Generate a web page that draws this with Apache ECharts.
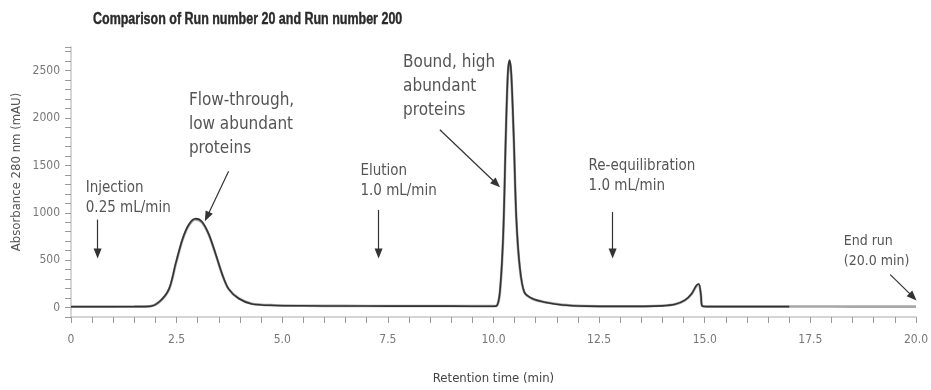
<!DOCTYPE html>
<html><head><meta charset="utf-8">
<script src="https://cdn.jsdelivr.net/npm/echarts@6/dist/echarts.min.js"></script>
<style>html,body{margin:0;padding:0;background:#fff}#c{width:931px;height:390px}</style>
</head><body><div id="c"></div>
<script>
// ---- data ----
const titleText = 'Comparison of Run number 20 and Run number 200';
const xAxisName = 'Retention time (min)';
const yAxisName = 'Absorbance 280 nm (mAU)';
const xTickLabels = [0, 2.5, 5, 7.5, 10, 12.5, 15, 17.5, 20];
const yTickLabels = [0, 500, 1000, 1500, 2000, 2500];

const run20Time = [0, 0.5, 1.0, 1.5, 1.86, 2.09, 2.32, 2.48, 2.64, 2.79, 2.95, 3.10, 3.26, 3.42, 3.58, 3.73, 3.97, 4.28, 4.83, 5.5, 6.5, 7.5, 8.5, 9.5, 10.0, 10.07, 10.15, 10.23, 10.29, 10.34, 10.38, 10.42, 10.48, 10.54, 10.62, 10.73, 10.93, 11.24, 11.63, 12.18, 13.0, 13.59, 13.98, 14.30, 14.53, 14.69, 14.80, 14.86, 14.91, 14.94, 15.07, 16.0, 17.0];
const run20Abs  = [8, 8, 8, 9, 12, 61, 197, 469, 724, 877, 938, 905, 775, 571, 350, 197, 95, 38, 22, 18, 16, 15, 15, 14, 14, 16, 163, 775, 1795, 2478, 2611, 2478, 1795, 949, 439, 163, 92, 54, 27, 15, 12, 12, 17, 34, 78, 146, 231, 248, 133, 17, 10, 10, 10];

const run200Time = [0, 0.5, 1.0, 1.5, 1.86, 2.09, 2.32, 2.48, 2.64, 2.79, 2.95, 3.10, 3.26, 3.42, 3.58, 3.73, 3.97, 4.28, 4.83, 5.5, 6.5, 7.5, 8.5, 9.5, 10.0, 10.07, 10.15, 10.23, 10.29, 10.34, 10.38, 10.42, 10.48, 10.54, 10.62, 10.73, 10.93, 11.24, 11.63, 12.18, 13.0, 13.59, 13.98, 14.30, 14.53, 14.69, 14.80, 14.86, 14.91, 14.94, 15.07, 16.0, 17.0, 17.5, 18.5, 19.5, 20.0];
const run200Abs  = [10, 10, 10, 11, 14, 58, 190, 460, 715, 868, 930, 898, 770, 566, 347, 196, 96, 40, 24, 19, 17, 16, 16, 15, 15, 17, 150, 750, 1770, 2455, 2590, 2460, 1780, 940, 430, 160, 90, 55, 28, 16, 13, 13, 18, 35, 76, 143, 226, 243, 130, 18, 11, 11, 11, 11, 10, 10, 10];

// annotation texts: [text, x (min), y (mAU) of first line centre, size class]
const noteTexts = [
  ['Injection\n0.25 mL/min', 0.35, 1265, 'small'],
  ['Flow-through,\nlow abundant\nproteins', 2.79, 2183, 'big'],
  ['Elution\n1.0 mL/min', 6.85, 1438, 'small'],
  ['Bound, high\nabundant\nproteins', 7.86, 2581, 'big'],
  ['Re-equilibration\n1.0 mL/min', 12.25, 1489, 'small'],
  ['End run\n(20.0 min)', 18.29, 694, 'tiny']
];
// arrows: [x1, y1, x2, y2] in (min, mAU)
const noteArrows = [
  [0.63, 928, 0.63, 571],
  [3.73, 1438, 3.22, 959],
  [7.28, 1030, 7.28, 571],
  [8.73, 1877, 10.07, 1306],
  [12.82, 1010, 12.82, 571],
  [19.39, 347, 19.93, 112]
];

// ---- styles ----
const FONT = '"DejaVu Sans Condensed", "DejaVu Sans", sans-serif';
const noteStyle = {
  small: {size: 15, lh: 20},
  big:   {size: 17, lh: 24},
  tiny:  {size: 14, lh: 20}
};

const pair = (t, v) => t.map((x, i) => [x, v[i]]);
const near = (arr, v) => arr.some(a => Math.abs(a - v) < 1e-6);

const chart = echarts.init(document.getElementById('c'), null, {renderer: 'canvas'});
chart.setOption({
  animation: false,
  backgroundColor: '#fff',
  grid: {left: 71, right: 8, top: 47, bottom: 64, containLabel: false},
  xAxis: {
    type: 'value', min: 0, max: 20, interval: 0.5,
    name: xAxisName, nameLocation: 'middle', nameGap: 55,
    nameTextStyle: {fontFamily: FONT, fontSize: 13, color: '#444'},
    axisLine: {onZero: false, lineStyle: {color: '#c8c8c8', width: 1.5}},
    axisTick: {length: 6, lineStyle: {color: '#999'}},
    axisLabel: {
      margin: 17, fontFamily: FONT, fontSize: 12, color: '#777',
      formatter: v => near(xTickLabels, v) ? (v === 0 ? '0' : v.toFixed(1)) : ''
    },
    splitLine: {show: false}
  },
  yAxis: {
    type: 'value', min: -100, max: 2750, interval: 100,
    axisLine: {show: true, onZero: false, lineStyle: {color: '#c8c8c8', width: 1.5}},
    axisTick: {show: true, length: 6, lineStyle: {color: '#999'}},
    axisLabel: {
      margin: 11, fontFamily: FONT, fontSize: 12, color: '#777',
      formatter: v => near(yTickLabels, v) ? String(v) : ''
    },
    splitLine: {show: false}
  },
  series: [
    {
      name: 'Run number 200', type: 'line', data: pair(run200Time, run200Abs),
      showSymbol: false, smooth: 0.3,
      lineStyle: {color: '#a8a8a8', width: 2.6}
    },
    {
      name: 'Run number 20', type: 'line', data: pair(run20Time, run20Abs),
      showSymbol: false, smooth: 0.3,
      lineStyle: {color: '#333', width: 1.6},
      markLine: {
        silent: true, symbol: ['none', 'triangle'], symbolSize: [8, 10],
        lineStyle: {color: '#333', width: 1.2, type: 'solid'},
        label: {show: false}, emphasis: {disabled: true},
        data: noteArrows.map(a => [{coord: [a[0], a[1]]}, {coord: [a[2], a[3]]}])
      }
    }
  ]
});

const graphics = noteTexts.map(n => {
  const p = chart.convertToPixel({gridIndex: 0}, [n[1], n[2]]);
  const st = noteStyle[n[3]];
  return {
    type: 'text', x: p[0], y: p[1] - st.lh / 2, silent: true,
    style: {text: n[0], font: st.size + 'px ' + FONT, fill: '#555', lineHeight: st.lh, textAlign: 'left', textVerticalAlign: 'top'}
  };
});
graphics.push({
  type: 'text', x: 17, y: 172, rotation: Math.PI / 2, silent: true,
  style: {text: yAxisName, font: '13px ' + FONT, fill: '#555', textAlign: 'center', textVerticalAlign: 'middle'}
});
graphics.push({
  type: 'text', x: 93, y: 20, scaleX: 0.78, silent: true,
  style: {text: titleText, font: 'bold 16px "Liberation Sans", Arial, sans-serif', fill: '#2a2a2a', stroke: '#2a2a2a', lineWidth: 0.4, textAlign: 'left', textVerticalAlign: 'middle'}
});
chart.setOption({graphic: graphics});
</script>
</body></html>
